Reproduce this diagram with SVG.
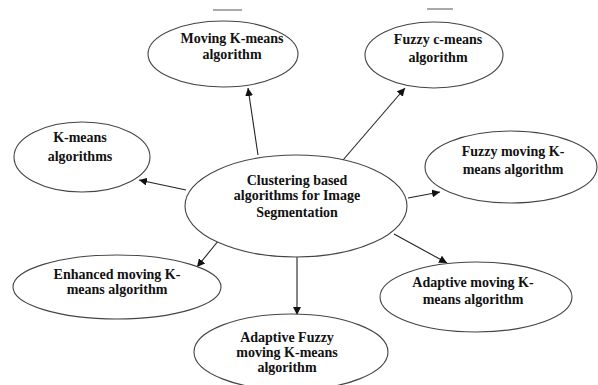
<svg xmlns="http://www.w3.org/2000/svg" width="598" height="385" viewBox="0 0 598 385">
<style>
.n ellipse{fill:#fff;stroke:#444;stroke-width:1.1}
.n text{font-family:"Liberation Serif","DejaVu Serif",serif;font-weight:bold;font-size:14px;fill:#111;text-anchor:middle}
.c line{stroke:#222;stroke-width:1.1;marker-end:url(#ah)}
</style>
<defs>
<marker id="ah" viewBox="0 0 10 10" refX="10" refY="5" markerWidth="8" markerHeight="8" markerUnits="userSpaceOnUse" orient="auto">
<path d="M0,0 L10,5 L0,10 z" fill="#111"/>
</marker>
</defs>
<rect width="598" height="385" fill="#fff"/>
<line x1="213" y1="10" x2="242" y2="10" stroke="#555" stroke-width="1"/>
<line x1="427" y1="9" x2="453" y2="9" stroke="#555" stroke-width="1"/>
<g class="c">
<line x1="258" y1="155" x2="248" y2="88"/>
<line x1="343" y1="160" x2="405" y2="88"/>
<line x1="186" y1="190" x2="139" y2="180"/>
<line x1="408" y1="198" x2="440" y2="192"/>
<line x1="219" y1="240" x2="197" y2="267"/>
<line x1="297" y1="257" x2="297" y2="315"/>
<line x1="394" y1="234" x2="447" y2="263"/>
</g>
<g id="center" class="n"><ellipse cx="296" cy="206" rx="111" ry="51"/>
<text x="297" y="185">Clustering based</text><text x="297" y="200">algorithms for Image</text><text x="297" y="217">Segmentation</text></g>
<g id="moving" class="n"><ellipse cx="223" cy="54" rx="75" ry="33"/>
<text x="232" y="43">Moving K-means</text><text x="232" y="59">algorithm</text></g>
<g id="fcm" class="n"><ellipse cx="434" cy="55" rx="69" ry="33"/>
<text x="438" y="44">Fuzzy c-means</text><text x="438" y="62">algorithm</text></g>
<g id="kmeans" class="n"><ellipse cx="82" cy="157" rx="68" ry="35"/>
<text x="80" y="142">K-means</text><text x="80" y="161">algorithms</text></g>
<g id="fmkm" class="n"><ellipse cx="511" cy="167" rx="86" ry="36"/>
<text x="513" y="156">Fuzzy moving K-</text><text x="513" y="174">means algorithm</text></g>
<g id="emkm" class="n"><ellipse cx="117" cy="287" rx="104" ry="32"/>
<text x="117" y="279">Enhanced moving K-</text><text x="117" y="294">means algorithm</text></g>
<g id="amkm" class="n"><ellipse cx="476" cy="297" rx="96" ry="35"/>
<text x="473" y="287">Adaptive moving K-</text><text x="473" y="304">means algorithm</text></g>
<g id="afmkm" class="n"><ellipse cx="291" cy="352" rx="97" ry="38"/>
<text x="287" y="342">Adaptive Fuzzy</text><text x="287" y="357">moving K-means</text><text x="287" y="372">algorithm</text></g>
</svg>
